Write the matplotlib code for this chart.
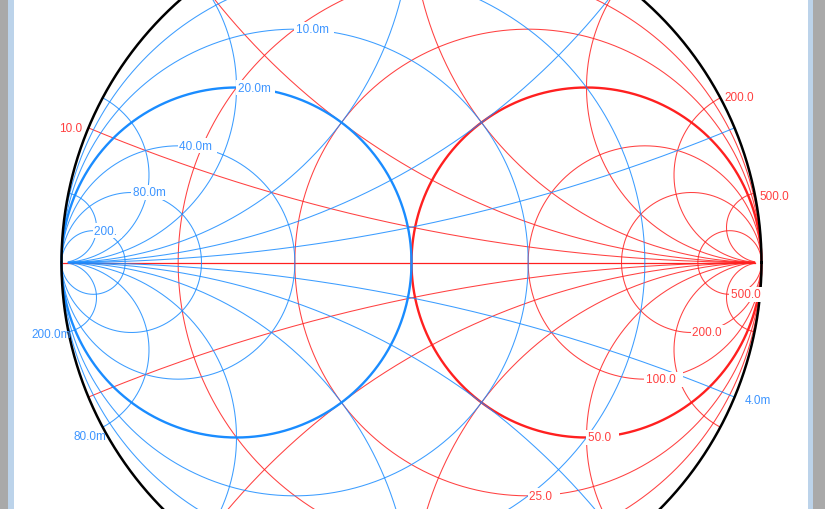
import numpy as np
import matplotlib.pyplot as plt
from matplotlib.patches import Rectangle

plt.rcParams['font.family'] = ['Liberation Sans', 'DejaVu Sans']

Z0 = 50.0

# impedance grid (ohm) and admittance grid (siemens)
resistance_ohm = [10, 25, 50, 100, 200, 500]
reactance_ohm = [10, 25, 50, 100, 200, 500]
conductance_s = [0.004, 0.010, 0.020, 0.040, 0.080, 0.200]
susceptance_s = [0.004, 0.010, 0.020, 0.040, 0.080, 0.200]

resistance_labels = ["10.0", "25.0", "50.0", "100.0", "200.0", "500.0"]
reactance_labels = ["10.0", "25.0", "50.0", "100.0", "200.0", "500.0"]
conductance_labels = ["4.0m", "10.0m", "20.0m", "40.0m", "80.0m", "200."]
susceptance_labels = ["4.0m", "10.0m", "20.0m", "40.0m", "80.0m", "200.0m"]

# arcs stop at this normalised real part instead of infinity
arc_end = 100.0

RED = '#ff2020'
BLUE = '#1a8cff'
RED_TXT = '#ff4040'
BLUE_TXT = '#3d95ff'


def gamma(z):
    return (z - 1) / (z + 1)


fig = plt.figure(figsize=(8.25, 5.1), dpi=100)
ax = fig.add_axes([0, 0, 1, 1])
R_PX = 350.0
CX, CY = 411.5, 263.5          # chart centre in pixels from the top-left corner
YLO, YHI = -(510 - CY) / R_PX, CY / R_PX
ax.set_xlim(-CX / R_PX, (825 - CX) / R_PX)
ax.set_ylim(YLO, YHI)
ax.set_aspect('equal')
ax.axis('off')

theta = np.linspace(0, 2 * np.pi, 1441)
s = np.concatenate([np.linspace(0, 2, 400), np.geomspace(2, arc_end, 500)])


def draw_grid(sign, values_r, values_x, color, zo):
    # sign=+1 impedance chart, sign=-1 admittance chart (rotated 180 deg)
    for r in values_r:
        c, rho = r / (1 + r), 1 / (1 + r)
        g = c + rho * np.exp(1j * theta)
        thick = abs(r - 1) < 1e-9
        ax.plot(sign * g.real, sign * g.imag, color=color,
                lw=1.7 if thick else 0.75, alpha=1.0 if thick else 0.85,
                zorder=zo + (1 if thick else 0))
    for x in values_x:
        for sx in (1, -1):
            g = gamma(s + 1j * sx * x)
            ax.plot(sign * g.real, sign * g.imag, color=color, lw=0.75,
                    alpha=0.85, zorder=zo)


r_norm = [v / Z0 for v in resistance_ohm]
x_norm = [v / Z0 for v in reactance_ohm]
g_norm = [v * Z0 for v in conductance_s]
b_norm = [v * Z0 for v in susceptance_s]

# real axis
g_axis = gamma(s + 0j)
ax.plot(g_axis.real, g_axis.imag, color=RED, lw=0.9, zorder=2)

draw_grid(1, r_norm, x_norm, RED, 2)
draw_grid(-1, g_norm, b_norm, BLUE, 4)

# outer circle
ax.plot(np.cos(theta), np.sin(theta), color='black', lw=1.8, zorder=7)

box = dict(boxstyle='square,pad=0.12', fc='white', ec='none')


def visible(p):
    return YLO + 0.01 < p[1] < YHI - 0.01


# resistance labels at the bottom of each circle
for r, lab in zip(r_norm, resistance_labels):
    p = (r / (1 + r), -1 / (1 + r))
    if visible(p):
        ax.annotate(lab + "  ", p, xytext=(1, 0),
                    textcoords='offset pixels', ha='left', va='center',
                    fontsize=8.5, color=RED_TXT, bbox=box, zorder=8)

# conductance labels at the top of each circle
for g, lab in zip(g_norm, conductance_labels):
    p = (-g / (1 + g), 1 / (1 + g))
    if visible(p):
        ax.annotate(lab + " ", p, xytext=(1, 0),
                    textcoords='offset pixels', ha='left', va='center',
                    fontsize=8.5, color=BLUE_TXT, bbox=box, zorder=8)

# reactance labels at the rim (upper half)
x_lab_pos = [('right', -6, 0), ('right', -5, 0), ('center', 0, 6),
             ('left', 4, 1), ('left', 4, 1), ('left', 5, -3)]
for x, lab, (ha, dx, dy) in zip(x_norm, reactance_labels, x_lab_pos):
    p = gamma(1j * x)
    if visible((p.real, p.imag)):
        ax.annotate(lab, (p.real, p.imag), xytext=(dx, dy),
                    textcoords='offset pixels', ha=ha, va='center',
                    fontsize=8.5, color=RED_TXT, zorder=8)

# susceptance labels at the rim (lower half)
b_lab_pos = [('left', 10, -3), ('left', 6, -3), ('center', 0, -8),
             ('right', 4, -6), ('right', 4, -9), ('right', 3, -2)]
for b, lab, (ha, dx, dy) in zip(b_norm, susceptance_labels, b_lab_pos):
    p = -gamma(1j * b)
    if visible((p.real, p.imag)):
        ax.annotate(lab, (p.real, p.imag), xytext=(dx, dy),
                    textcoords='offset pixels', ha=ha, va='center',
                    fontsize=8.5, color=BLUE_TXT, zorder=8)

# window frame strips
W, H = 825.0, 510.0
for x0, w, col in [(0, 8, '#a9a9a9'), (8, 6, '#bcd3ea'),
                   (808, 5, '#bcd3ea'), (813, 12, '#a9a9a9')]:
    fig.patches.append(Rectangle((x0 / W, 0), w / W, 1, transform=fig.transFigure,
                                 fc=col, ec='none', zorder=10))

fig.savefig('out.png', dpi=100, facecolor='white')
